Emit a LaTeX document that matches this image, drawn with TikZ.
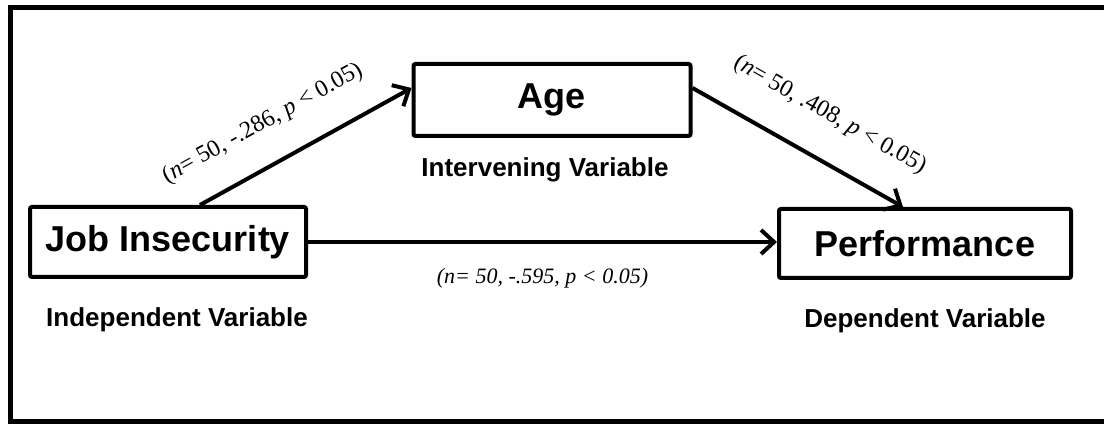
\documentclass[tikz,border=0pt]{standalone}
\usepackage{fontspec}
\setmainfont{Liberation Sans}
\newfontfamily\statfont{Liberation Serif}
\usepackage{tikz}
\usetikzlibrary{arrows.meta, positioning, calc}
\tikzstyle{varbox} = [rectangle, draw=black, line width=2pt, rounded corners=1pt, inner sep=0pt, text centered, font=\fontsize{18}{20}\selectfont\bfseries]
\tikzstyle{vartag} = [inner sep=0pt, font=\fontsize{13}{15}\selectfont\bfseries]
\tikzstyle{stat} = [inner sep=0pt, font=\fontsize{12}{14}\selectfont\statfont]
\tikzstyle{arrow} = [line width=2pt, -{Straight Barb[length=6.5pt,width=12pt]}]

\begin{document}
\begin{tikzpicture}[x=0.5pt, y=0.5pt]
    \useasboundingbox (0,0) rectangle (1104,426);
    \draw [line width=2.5pt] (10,4) rectangle (1112,418);

    \node (job) [varbox, minimum width=138pt, minimum height=35pt] at (168,184) {Job Insecurity};
    \node (age) [varbox, minimum width=138.5pt, minimum height=36pt] at (552,326) {Age};
    \node (perf) [varbox, minimum width=146pt, minimum height=34.5pt] at (925,182.5) {Performance};

    \node (jobtag) [vartag, below=14pt of job, xshift=4.5pt] {Independent Variable};
    \node (agetag) [vartag, below=9.5pt of age, xshift=-3.5pt] {Intervening Variable};
    \node (perftag) [vartag, below=14pt of perf] {Dependent Variable};

    \draw [arrow] ([xshift=16pt]job.north) -- ([yshift=6pt]age.west)
        node [stat, pos=0.39, sloped, above=14pt] {(\textit{n}= 50, -.286, \textit{p} < 0.05)};
    \draw [arrow] ([yshift=6pt]age.east) -- ([xshift=-11pt]perf.north)
        node [stat, pos=0.55, sloped, above=15.5pt] {(\textit{n}= 50, .408, \textit{p} < 0.05)};
    \draw [arrow] (job.east) -- (job.east -| perf.west)
        node [stat, midway, below=12pt] {\fontsize{11}{13}\selectfont\itshape (n= 50, -.595, p < 0.05)};
  \end{tikzpicture}
\end{document}
